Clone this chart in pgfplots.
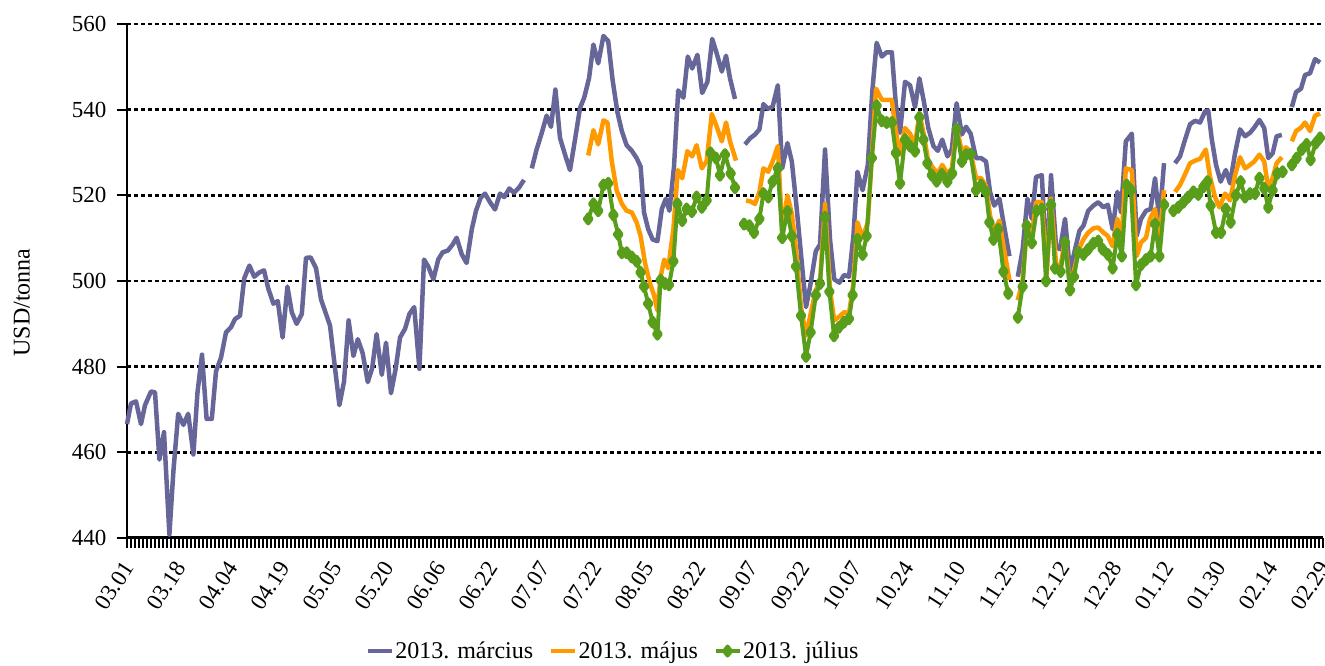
\documentclass[border=0pt]{standalone}
\usepackage{fontspec}
\setmainfont{Liberation Serif}
\usepackage{pgfplots}
\pgfplotsset{compat=1.18}
\definecolor{cpurple}{RGB}{102,102,153}
\definecolor{corange}{RGB}{255,153,0}
\definecolor{cgreen}{RGB}{88,158,26}
\begin{document}
\begin{tikzpicture}
\path[use as bounding box] (-127pt,-128pt) rectangle (1198pt,538pt);
\begin{axis}[
  at={(0pt,0pt)}, anchor=south west,
  scale only axis, width=1196pt, height=514pt,
  xmin=0, xmax=299, ymin=440, ymax=560,
  axis x line*=bottom, axis y line*=left,
  x axis line style={line width=3pt,-},
  y axis line style={line width=2.5pt,-},
  xtick={0,13,...,299},
  xticklabels={03.01,03.18,04.04,04.19,05.05,05.20,06.06,06.22,07.07,07.22,08.05,08.22,09.07,09.22,10.07,10.24,11.10,11.25,12.12,12.28,01.12,01.30,02.14,02.29},
  minor x tick num=12,
  ytick={440,460,...,560},
  tick align=outside,
  major tick length=10pt, minor tick length=10pt,
  xtick style={draw=black, line width=1.7pt},
  ytick style={draw=black, line width=2pt},
  ymajorgrids,
  grid style={draw=black, line width=2.5pt, dash pattern=on 4pt off 3pt},
  /pgf/number format/assume math mode=true,
  yticklabel style={font=\fontsize{23}{26}\selectfont, xshift=-7pt},
  xticklabel style={font=\fontsize{23}{26}\selectfont, yshift=-15pt, xshift=2pt, rotate=57, anchor=east, inner sep=1pt},
  ylabel={USD/tonna},
  every axis y label/.style={at={(axis description cs:-0.088,0.458)}, rotate=90, anchor=center, font=\fontsize{24}{28}\selectfont},
  unbounded coords=jump,
  clip=false,
  legend columns=3,
  legend style={at={(axis description cs:0.406,-0.22)}, anchor=center, draw=none, fill=none,
    font=\fontsize{24}{28}\selectfont, inner sep=0pt,
    nodes={inner sep=1.5pt},
    /tikz/every even column/.append style={column sep=14pt}},
  legend image code/.code={\draw[#1,mark repeat=2,mark phase=2] plot coordinates {(0pt,0pt) (12pt,0pt) (24pt,0pt)};},
]
\addplot[cpurple, line width=4.5pt, line join=round] coordinates {
(0,466.6)(1.0,471.4)(2.25,471.9)(3.5,466.6)(4.5,471.0)(6.0,474.2)(7.0,474.0)(8.1,458.3)(9.25,464.7)(10.6,440.8)
(11.6,455.6)(12.8,469.0)(14.1,466.4)(15.3,469.0)(16.6,459.5)(17.6,473.8)(18.75,482.8)(19.9,467.8)(21.2,467.8)(22.25,478.9)
(23.5,482.1)(24.75,488.0)(26.0,489.2)(27.0,491.1)(28.25,491.9)(29.3,500.6)(30.6,503.6)(31.8,501.0)(33.1,502.0)(34.25,502.5)
(35.3,498.3)(36.6,494.7)(37.7,495.3)(38.9,486.8)(40.1,498.7)(41.2,492.7)(42.4,490.0)(43.7,492.3)(44.75,505.4)(45.9,505.5)
(47.25,503.0)(48.5,495.7)(50.75,489.6)(52.0,479.7)(53.1,471.0)(54.25,476.5)(55.4,490.8)(56.6,482.5)(57.7,486.4)(58.9,483.2)
(60.2,476.4)(61.3,479.7)(62.4,487.6)(63.7,478.1)(64.75,485.6)(66.0,473.8)(67.2,479.7)(68.25,486.8)(69.5,488.8)(70.6,492.3)
(71.8,493.9)(73.1,479.5)(74.25,505.0)(75.3,503.4)(76.6,500.4)(77.8,505.0)(78.9,506.7)(80.2,507.1)(81.4,508.5)(82.4,510.1)
(83.7,506.2)(84.9,504.2)(86.2,512.1)(87.25,516.4)(88.4,519.4)(89.5,520.4)(90.75,518.4)(92.0,516.7)(93.25,520.4)(94.3,519.6)
(95.6,521.6)(96.75,520.6)(98.0,521.8)(99.25,523.6)(100.2,nan)
(101.2,526.3)(102.4,530.7)(103.7,534.6)(104.9,538.6)(106.0,536.0)(107.1,544.7)(108.25,533.4)(109.5,529.5)(110.75,525.9)(112.0,533.0)
(113.25,540.4)(114.3,542.8)(115.5,547.3)(116.6,555.2)(117.8,550.8)(119.1,557.2)(120.3,556.0)(121.4,546.9)(122.6,539.4)(123.7,535.0)
(124.9,531.7)(126.2,530.4)(127.4,528.7)(128.4,526.7)(129.25,516.0)(130.3,512.1)(131.4,509.7)(132.6,509.3)(133.7,516.8)(134.7,519.2)
(135.6,516.4)(136.75,526.7)(137.8,544.5)(139.1,542.8)(140.2,552.4)(141.3,549.6)(142.6,552.8)(143.8,543.9)(145.1,546.5)(146.3,556.5)
(147.4,553.2)(148.7,548.9)(149.75,552.6)(150.75,547.3)(152.0,542.5)(153.2,nan)
(154.5,531.9)(155.75,533.3)(157.0,534.2)(158.1,535.4)(159.1,541.3)(160.2,540.2)(161.4,540.7)(162.7,545.7)(163.8,526.3)(165.1,532.2)
(166.2,527.9)(167.4,517.2)(168.7,504.2)(169.75,493.9)(170.9,499.4)(172.2,507.0)(173.25,508.5)(174.5,530.7)(175.75,509.7)(176.8,500.4)
(178.1,499.6)(179.25,501.4)(180.5,501.0)(181.6,510.5)(182.6,525.5)(183.9,521.2)(185.2,527.1)(186.3,544.1)(187.4,555.6)(188.7,552.4)
(189.9,553.4)(191.2,553.4)(192.2,541.3)(193.25,534.6)(194.5,546.5)(195.75,545.7)(197.0,540.6)(198.1,547.3)(199.25,541.7)(200.3,535.8)
(201.6,531.5)(202.7,530.4)(203.8,533.0)(205.1,529.1)(206.2,530.7)(207.4,541.5)(208.7,534.2)(209.75,536.0)(210.9,534.4)(212.25,528.7)
(213.5,528.7)(214.75,527.9)(215.75,520.8)(216.8,517.6)(218.1,519.2)(219.25,512.9)(220.6,505.8)(221.6,nan)
(222.7,501.0)(223.9,507.3)(225.1,519.2)(226.2,514.5)(227.25,524.3)(228.7,524.7)(229.9,502.6)(231.0,524.7)(232.25,508.1)(233.25,507.4)
(234.5,514.5)(235.75,502.2)(237.0,507.4)(238.1,511.7)(239.1,512.9)(240.3,516.4)(241.6,517.6)(242.8,518.4)(244.1,517.2)(245.2,517.8)
(246.4,512.1)(247.6,520.8)(248.5,516.0)(249.7,532.6)(251.2,534.4)(252.4,510.5)(253.5,514.5)(254.75,516.4)(255.9,516.8)(257.0,524.0)
(258.1,514.1)(259.25,527.5)(260.6,nan)
(262.0,527.5)(263.25,529.1)(264.5,533.0)(265.75,536.6)(267.0,537.4)(268.25,537.0)(269.5,539.6)(270.3,539.8)(271.2,533.0)(272.25,527.1)
(273.4,523.2)(274.7,525.9)(275.75,522.8)(277.0,529.8)(278.25,535.4)(279.5,533.8)(280.75,534.6)(281.8,535.8)(283.1,537.6)(284.3,535.7)
(285.3,528.7)(286.4,529.8)(287.4,533.8)(288.7,534.1)(290.0,nan)
(291.2,540.6)(292.25,544.1)(293.5,544.9)(294.5,548.1)(295.75,548.5)(297.0,551.8)(298.25,551.0)
};
\addlegendentry{2013. március}
\addplot[corange, line width=4.5pt, line join=round] coordinates {
(115.3,529.3)(116.6,535.2)(117.8,531.9)(119.1,537.5)(120.1,537.0)(121.2,527.9)(122.4,521.2)(123.7,518.0)(124.9,516.4)(126.2,516.0)
(127.4,513.7)(128.4,510.5)(129.5,504.2)(130.75,499.4)(131.75,496.7)(132.6,493.1)(133.4,501.0)(134.3,505.0)(135.3,503.0)(136.6,512.1)
(137.7,525.9)(138.8,524.0)(140.1,530.3)(141.3,529.1)(142.4,531.7)(143.7,526.3)(144.9,527.9)(146.2,539.0)(147.4,536.1)(148.7,532.6)
(149.75,537.0)(150.75,532.6)(152.25,528.1)(153.4,nan)
(154.75,518.8)(155.75,518.6)(157.0,518.0)(158.1,520.8)(159.1,526.3)(160.3,525.5)(161.4,527.9)(162.7,531.5)(163.8,511.7)(165.1,520.0)
(166.2,515.7)(167.25,507.4)(168.5,493.9)(169.75,487.2)(170.9,492.3)(172.2,497.9)(173.25,499.8)(174.5,518.0)(175.75,497.9)(176.8,490.8)
(178.1,491.7)(179.25,492.7)(180.5,492.5)(181.6,499.4)(182.6,513.7)(183.9,510.1)(185.2,513.7)(186.3,530.3)(187.25,544.9)(188.7,542.3)
(189.9,542.3)(191.2,542.3)(192.2,535.0)(193.25,529.5)(194.5,535.7)(195.75,534.4)(197.0,531.9)(198.1,539.1)(199.25,534.0)(200.3,527.9)
(201.6,526.3)(202.7,525.1)(203.8,527.1)(205.1,525.1)(206.2,526.3)(207.4,535.8)(208.7,530.3)(209.75,531.2)(210.9,530.1)(212.25,524.0)
(213.5,524.0)(214.75,522.2)(215.75,515.3)(216.8,511.7)(218.1,514.1)(219.25,507.4)(220.6,500.2)(221.6,nan)
(222.7,495.5)(223.9,500.2)(225.1,513.7)(226.2,510.5)(227.25,518.4)(228.7,518.4)(229.9,501.0)(231.0,519.2)(232.25,504.2)(233.25,502.6)
(234.5,509.7)(235.75,498.7)(237.0,503.4)(238.1,507.7)(239.1,509.7)(240.3,511.3)(241.6,512.3)(242.8,512.5)(244.1,511.3)(245.2,510.5)
(246.4,508.1)(247.6,514.5)(248.5,507.4)(249.7,526.3)(251.2,525.9)(252.4,505.8)(253.5,509.0)(254.75,510.1)(255.75,514.5)(257.0,516.8)
(258.1,509.7)(259.25,521.2)(260.6,nan)
(262.0,520.8)(263.25,522.4)(264.5,524.9)(265.75,527.5)(267.0,528.1)(268.25,528.5)(269.7,530.7)(270.75,524.3)(272.0,519.6)(273.1,517.2)
(274.5,520.4)(275.75,518.8)(277.0,524.7)(278.25,528.9)(279.5,526.3)(280.75,527.1)(281.8,527.9)(283.1,529.5)(284.3,527.9)(285.3,521.6)
(286.4,524.0)(287.4,527.5)(288.7,528.9)(290.0,nan)
(291.2,532.6)(292.25,535.0)(293.5,535.8)(294.5,537.0)(295.75,535.0)(297.0,538.6)(298.25,539.1)
};
\addlegendentry{2013. május}
\addplot[cgreen, line width=4pt, line join=round, mark=diamond*, mark size=4.5pt, mark options={solid}] coordinates {
(115.3,514.5)(116.6,518.0)(117.8,516.4)(119.1,522.4)(120.3,522.8)(121.6,515.4)(122.8,510.9)(123.7,506.6)(124.9,506.6)(126.2,505.6)
(127.4,504.6)(128.4,502.0)(129.25,498.7)(130.3,494.7)(131.4,490.4)(132.6,487.6)(133.4,500.2)(134.5,499.4)(135.5,499.1)(136.6,504.6)
(137.6,518.0)(138.8,514.1)(139.9,516.8)(141.2,516.2)(142.4,519.6)(143.7,517.2)(144.9,518.8)(145.9,529.9)(147.25,528.7)(148.25,524.7)
(149.5,529.5)(150.9,525.1)(152.0,521.8)(153.2,nan)
(154.25,513.3)(155.6,512.9)(156.75,511.3)(158.1,514.5)(159.1,520.4)(160.3,519.6)(161.4,523.2)(162.7,526.3)(163.8,510.1)(165.1,516.2)
(166.2,510.5)(167.25,503.4)(168.5,491.9)(169.75,482.4)(170.9,488.0)(172.2,496.7)(173.25,499.4)(174.5,514.9)(175.6,497.5)(176.75,487.2)
(178.0,489.2)(179.25,490.4)(180.5,491.2)(181.4,496.7)(182.6,509.7)(183.9,506.2)(184.9,510.5)(186.2,528.7)(187.4,540.9)(188.7,537.4)
(189.9,537.0)(191.2,537.0)(192.2,529.9)(193.25,522.8)(194.5,533.0)(195.75,531.5)(197.0,530.3)(198.1,538.2)(199.1,533.0)(200.1,527.5)
(201.2,524.7)(202.4,523.3)(203.7,524.9)(205.1,523.2)(206.3,525.1)(207.4,535.4)(208.7,527.9)(209.75,529.5)(210.9,529.6)(212.25,521.2)
(213.5,522.4)(214.75,520.8)(215.6,513.7)(216.6,509.7)(217.8,512.1)(219.1,502.2)(220.3,497.1)(221.5,nan)
(222.7,491.5)(223.9,498.7)(224.9,512.9)(226.2,508.9)(227.4,516.4)(228.7,516.8)(229.75,500.0)(231.0,517.8)(232.0,503.0)(233.4,502.2)
(234.5,509.0)(235.75,497.9)(236.75,501.0)(237.8,506.7)(239.1,506.2)(240.3,507.4)(241.6,508.8)(242.8,509.3)(243.9,507.4)(245.2,506.2)
(246.4,503.0)(247.6,510.9)(248.7,505.8)(249.9,522.4)(251.0,521.2)(252.25,499.1)(253.5,503.8)(254.75,505.0)(255.9,505.8)(257.0,513.3)
(258.1,505.8)(259.3,517.8)(260.4,nan)
(261.6,516.4)(262.8,517.2)(264.1,518.4)(265.3,519.6)(266.6,520.8)(267.8,520.2)(269.1,522.0)(270.1,523.2)(270.9,517.6)(272.25,511.3)
(273.5,511.3)(274.7,516.8)(275.9,513.7)(277.2,520.0)(278.4,523.2)(279.5,519.6)(280.75,520.4)(282.0,520.4)(283.1,524.0)(284.3,521.6)
(285.3,517.2)(286.4,521.2)(287.6,525.1)(288.9,525.5)(290.0,nan)
(291.2,527.1)(292.4,528.7)(293.7,530.7)(294.9,531.9)(295.9,528.3)(297.2,532.2)(298.25,533.4)
};
\addlegendentry{2013. július}
\end{axis}
\foreach \i in {0,...,299} {\draw[black, line width=1.7pt] ({\i*4pt},-1pt) -- ({\i*4pt},-10pt);}
\foreach \j in {0,...,6} {\draw[black, line width=2pt] (1pt,{\j*85.667pt}) -- (-6pt,{\j*85.667pt});}
\end{tikzpicture}
\end{document}
